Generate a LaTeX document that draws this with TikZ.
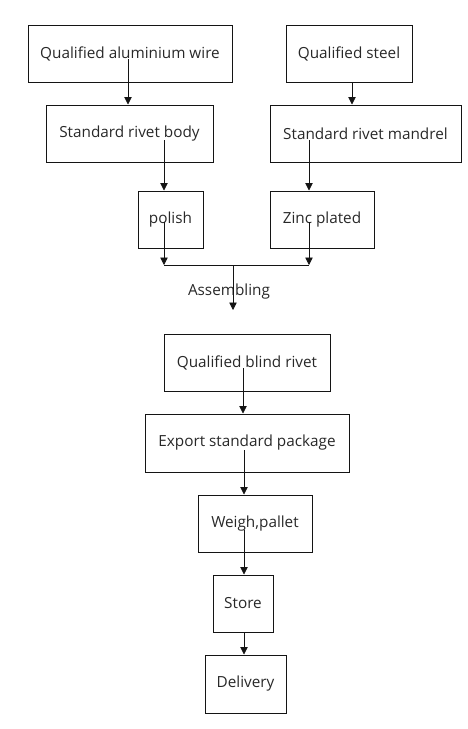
\documentclass[tikz,border=0pt]{standalone}
\usepackage{fontspec}
\setmainfont{Open Sans}
\usepackage{tikz}
\usetikzlibrary{arrows.meta, positioning, calc}
\definecolor{mydark}{RGB}{20,20,20}
\definecolor{mytext}{RGB}{40,40,40}
\tikzset{
  box/.style={rectangle,draw=mydark,line width=1pt,inner sep=0pt,
    font=\fontsize{15.3}{17}\selectfont,text=mytext,anchor=center},
  arrow/.style={-{Triangle[length=7.5pt,width=7.5pt]},line width=0.8pt,color=mydark},
  line/.style={line width=0.8pt,color=mydark}
}

\begin{document}
\begin{tikzpicture}[x=1pt,y=-1pt]
  \useasboundingbox (0,0) rectangle (468,729);

  % ── Raw material boxes ────────────────────────────────────────────────────
  \node[box,minimum width=204pt,minimum height=57pt] (alwire) at (130,53.5) {Qualified aluminium wire};
  \node[box,minimum width=126pt,minimum height=57pt] (steel) at (349,53.5) {Qualified steel};

  % ── Parts ────────────────────────────────────────────────────────────────
  \node[box,minimum width=167pt,minimum height=57pt] (body) at (129.5,133.5) {Standard rivet body};
  \node[box,minimum width=191pt,minimum height=57pt] (mandrel) at (365.5,133.5) {Standard rivet mandrel};
  \node[box,minimum width=65pt,minimum height=57pt] (polish) at (170.5,219.5) {polish};
  \node[box,minimum width=104pt,minimum height=57pt] (zinc) at (322,219.5) {Zinc plated};

  % ── Assembly and after ───────────────────────────────────────────────────
  \node[font=\fontsize{15.3}{17}\selectfont,text=mytext] (assem) at (229,292) {Assembling};
  \node[box,minimum width=166pt,minimum height=57pt] (blind) at (247,362.5) {Qualified blind rivet};
  \node[box,minimum width=204pt,minimum height=58pt] (export) at (247,443) {Export standard package};
  \node[box,minimum width=114pt,minimum height=57pt] (weigh) at (255,523.5) {Weigh,pallet};
  \node[box,minimum width=60pt,minimum height=57pt] (store) at (243,603.5) {Store};
  \node[box,minimum width=81pt,minimum height=58pt] (delivery) at (245.5,684) {Delivery};

  % ── Start points of the connectors (inside the boxes) ────────────────────
  \coordinate (s1) at (128,59);
  \coordinate (s2) at (164,140);
  \coordinate (s3) at (309,140);
  \coordinate (s4) at (164,222);
  \coordinate (s5) at (309,222);
  \coordinate (jl) at (164,265);
  \coordinate (jr) at (309,265);
  \coordinate (jm) at (233,265);
  \coordinate (jend) at (233,310);
  \coordinate (s6) at (243,368);
  \coordinate (s7) at (244,450);
  \coordinate (s8) at (244,530);

  % ── Connectors ───────────────────────────────────────────────────────────
  \draw[arrow] (s1) -- (body.north -| s1);
  \draw[arrow] (steel.south -| 352,0) -- (mandrel.north -| 352,0);
  \draw[arrow] (s2) -- (polish.north -| s2);
  \draw[arrow] (s3) -- (zinc.north -| s3);
  \draw[arrow] (s4) -- (jl);
  \draw[arrow] (s5) -- (jr);
  \draw[line] (jl) -- (jr);
  \draw[arrow] (jm) -- (jend);
  \draw[arrow] (s6) -- (export.north -| s6);
  \draw[arrow] (s7) -- (weigh.north -| s7);
  \draw[arrow] (s8) -- (store.north -| s8);
  \draw[arrow] (store.south -| s8) -- (delivery.north -| s8);
\end{tikzpicture}
\end{document}
